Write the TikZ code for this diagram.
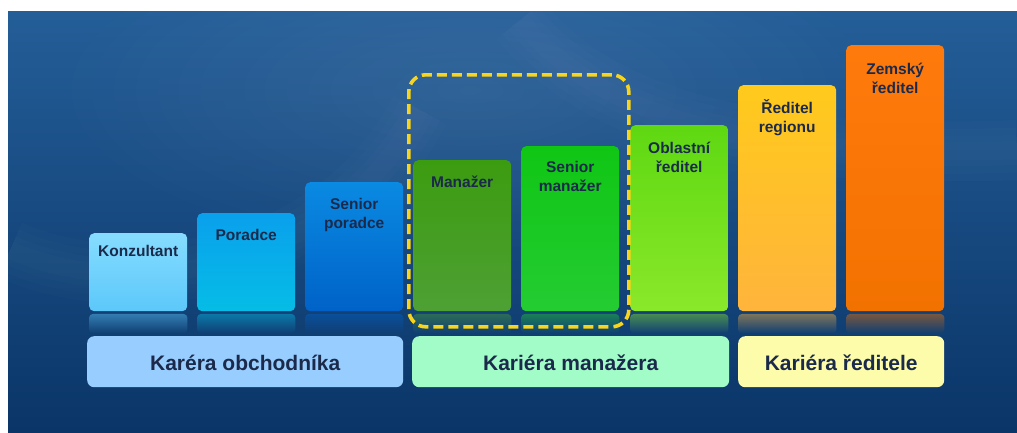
\documentclass[tikz,border=0pt]{standalone}
\usepackage{fontspec}
\setmainfont{Liberation Sans}
\usetikzlibrary{fadings}

% colours of the background, the bars and the texts
\definecolor{bgtop}{HTML}{245E98}
\definecolor{bgbot}{HTML}{0A3568}
\definecolor{txt}{HTML}{1B2A4A}
\definecolor{kTop}{HTML}{86DCFF}\definecolor{kBot}{HTML}{5CC8FA}
\definecolor{pTop}{HTML}{0AA0EC}\definecolor{pBot}{HTML}{05BDE6}
\definecolor{spTop}{HTML}{0A8AE2}\definecolor{spBot}{HTML}{0062C8}
\definecolor{mTop}{HTML}{3C9C10}\definecolor{mBot}{HTML}{4EA034}
\definecolor{smTop}{HTML}{10C614}\definecolor{smBot}{HTML}{24CC32}
\definecolor{oTop}{HTML}{5ED812}\definecolor{oBot}{HTML}{8AE82A}
\definecolor{rTop}{HTML}{FFCA1C}\definecolor{rBot}{HTML}{FFB43C}
\definecolor{zTop}{HTML}{FF7A0C}\definecolor{zBot}{HTML}{F27200}
\definecolor{grpA}{HTML}{98CDFF}
\definecolor{grpB}{HTML}{A2FCC8}
\definecolor{grpC}{HTML}{FCFCAA}
\definecolor{selline}{HTML}{F8D41C}

\tikzfading[name=reflfade, top color=transparent!55, bottom color=transparent!100]
\tikzfading[name=softglow, inner color=transparent!0, outer color=transparent!100]

\tikzset{
  bar/.style={rounded corners=5pt, inner sep=0pt, minimum width=98pt,
    anchor=north west, top color=#1Top, bottom color=#1Bot},
  lbl/.style={font=\fontsize{15.5}{19}\selectfont\bfseries, text=txt,
    inner sep=0pt, align=center, anchor=north},
  grp/.style={rounded corners=7pt, inner sep=0pt, minimum height=51pt,
    anchor=north west, fill=#1, text=txt,
    font=\fontsize{21}{25}\selectfont\bfseries, text height=17pt, text depth=0pt},
  refl/.style={fill=#1, path fading=reflfade},
  selbox/.style={draw=selline, line width=3.6pt, dash pattern=on 10pt off 5pt,
    rounded corners=17pt, inner sep=0pt, anchor=north west}
}

\begin{document}
\begin{tikzpicture}[x=1pt,y=-1pt]
\useasboundingbox (0,0) rectangle (1017,432);
\fill[white] (0,0) rectangle (1017,432);

% background with a soft light patch and faint, blurred arcs
\shade[top color=bgtop, bottom color=bgbot] (8,11) rectangle (1017,432);
\begin{scope}
  \clip (8,11) rectangle (1017,432);
  \fill[white, opacity=0.08, path fading=softglow] (470,90) ellipse (430pt and 170pt);
  \foreach \w in {60,45,30,18}{
    \draw[white, opacity=0.012, line width=\w pt] (10,250) .. controls (120,300) and (330,280) .. (420,110);
    \draw[white, opacity=0.010, line width=\w pt] (520,20) .. controls (600,120) and (760,160) .. (1017,150);
  }
\end{scope}

% career steps
\node[bar=k,  minimum height=78pt]  (k)  at (89,233)  {};
\node[bar=p,  minimum height=98pt]  (p)  at (197,213) {};
\node[bar=sp, minimum height=129pt] (sp) at (305,182) {};
\node[bar=m,  minimum height=151pt] (m)  at (413,160) {};
\node[bar=sm, minimum height=165pt] (sm) at (521,146) {};
\node[bar=o,  minimum height=186pt] (o)  at (630,125) {};
\node[bar=r,  minimum height=226pt] (r)  at (738,85)  {};
\node[bar=z,  minimum height=266pt] (z)  at (846,45)  {};

% reflections under the steps
\foreach \n/\c in {k/kBot, p/pBot, sp/spBot, m/mBot, sm/smBot, o/oBot, r/rBot, z/zBot}
  \fill[refl=\c, rounded corners=4pt] ([yshift=-2.5pt]\n.south west) rectangle ([yshift=-22pt]\n.south east);

% step labels
\node[lbl] (kt)  at ([yshift=-9.7pt]k.north)   {\strut Konzultant};
\node[lbl] (pt)  at ([yshift=-13.7pt]p.north)  {\strut Poradce};
\node[lbl] (spt) at ([yshift=-13.7pt]sp.north) {\strut Senior\\poradce};
\node[lbl] (mt)  at ([yshift=-13.7pt]m.north)  {\strut Manažer};
\node[lbl] (smt) at ([yshift=-13pt]sm.north)   {\strut Senior\\manažer};
\node[lbl] (ot)  at ([yshift=-14.5pt]o.north)  {\strut Oblastní\\ředitel};
\node[lbl] (rt)  at ([yshift=-14.5pt]r.north)  {\strut Ředitel\\regionu};
\node[lbl] (zt)  at ([yshift=-15.5pt]z.north)  {\strut Zemský\\ředitel};

% highlighted pair
\node[selbox, minimum width=220pt, minimum height=252pt] (sel) at (407,73) {};

% career groups
\node[grp=grpA, minimum width=316pt] (ga) at (87,336)  {Karéra obchodníka};
\node[grp=grpB, minimum width=317pt] (gb) at (412,336) {Kariéra manažera};
\node[grp=grpC, minimum width=206pt] (gc) at (738,336) {Kariéra ředitele};
\end{tikzpicture}
\end{document}
